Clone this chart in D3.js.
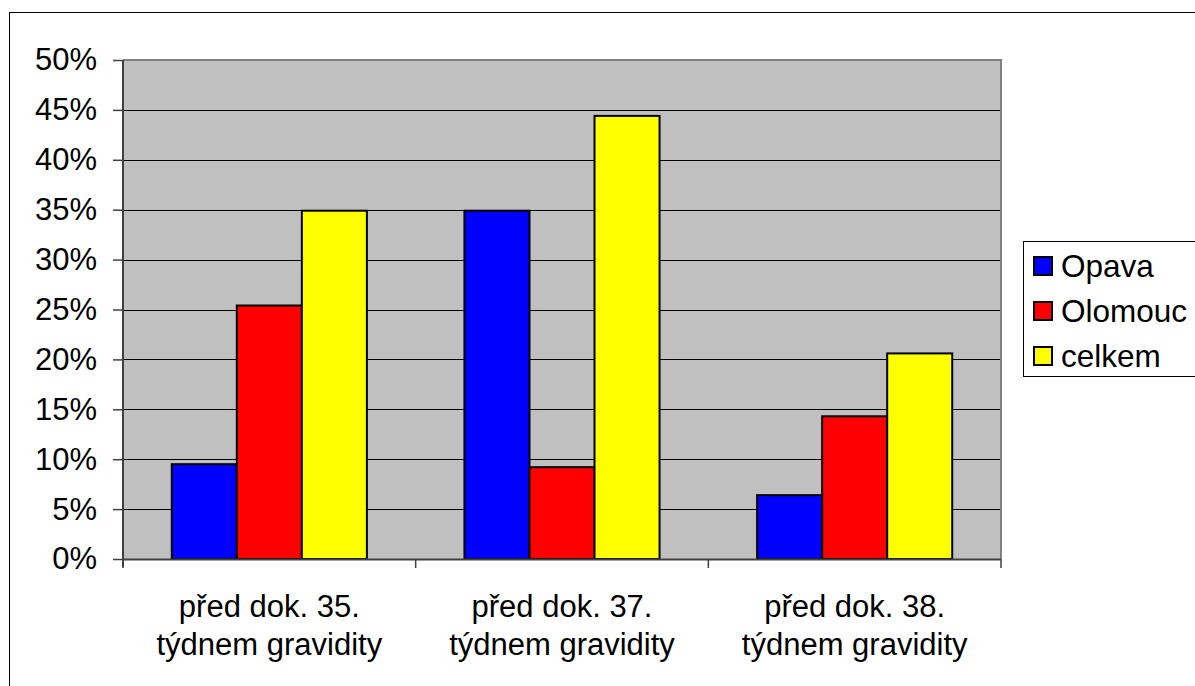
<!DOCTYPE html>
<html><head><meta charset="utf-8">
<script src="https://cdn.jsdelivr.net/npm/d3@7"></script>
<style>body{margin:0;background:#fff}svg{display:block}text{font-family:"Liberation Sans",Arial,sans-serif;fill:#000}</style>
</head><body>
<script>
const categories = [["před dok. 35.","týdnem gravidity"],["před dok. 37.","týdnem gravidity"],["před dok. 38.","týdnem gravidity"]];
const seriesNames = ["Opava","Olomouc","celkem"];
const seriesColors = ["#0000FF","#FF0000","#FFFF00"];
const opava = [0.095, 0.349, 0.064];
const olomouc = [0.254, 0.092, 0.143];
const celkem = [0.349, 0.444, 0.206];
const yTicks = [0,0.05,0.10,0.15,0.20,0.25,0.30,0.35,0.40,0.45,0.50];

const W=1195,H=686;
const svg=d3.select("body").append("svg").attr("width",W).attr("height",H);
svg.append("rect").attr("x",9.5).attr("y",12.5).attr("width",W).attr("height",H).attr("fill","#fff").attr("stroke","#000").attr("stroke-width",1);

const L=123,R=1001,T=60,B=559;
const x0=d3.scaleBand().domain(d3.range(categories.length)).range([L,R]).paddingInner(0).paddingOuter(0);
const bw=x0.bandwidth()/(3+1.5);
const y=d3.scaleLinear().domain([0,0.5]).range([B,T]);

svg.append("rect").attr("x",L).attr("y",T).attr("width",R-L).attr("height",B-T).attr("fill","#C0C0C0");
// gridlines
svg.append("g").selectAll("line").data(yTicks.slice(1,-1)).join("line")
  .attr("x1",L).attr("x2",R).attr("y1",d=>Math.round(y(d))+0.5).attr("y2",d=>Math.round(y(d))+0.5)
  .attr("stroke","#000").attr("stroke-width",1);
// plot border top/right
svg.append("path").attr("d",`M${L},${T} H${R} V${B}`).attr("fill","none").attr("stroke","#808080").attr("stroke-width",2);

const data=[opava,olomouc,celkem];
const g=svg.append("g");
data.forEach((vals,si)=>{
  g.selectAll(null).data(vals).join("rect")
   .attr("x",(d,i)=>x0(i)+bw*0.75+si*bw)
   .attr("y",d=>y(d))
   .attr("width",bw)
   .attr("height",d=>B-y(d))
   .attr("fill",seriesColors[si]).attr("stroke","#000").attr("stroke-width",2);
});

// y axis
const yAxis=d3.axisLeft(y).tickValues(yTicks).tickSize(10).tickFormat(d3.format(".0%"));
const ya=svg.append("g").attr("transform",`translate(${L},0)`).call(yAxis);
ya.select(".domain").attr("stroke","#404040").attr("stroke-width",2).attr("d",`M0,${T}V${B+8}`);
ya.selectAll(".tick line").attr("stroke","#404040").attr("stroke-width",1.5);
ya.selectAll(".tick text").attr("x",-26).attr("font-size",31).attr("font-family","Liberation Sans, Arial, sans-serif").attr("fill","#000");

// x axis
const xa=svg.append("g").attr("transform",`translate(0,${B})`);
xa.append("line").attr("x1",L).attr("x2",R).attr("y1",0.5).attr("y2",0.5).attr("stroke","#404040").attr("stroke-width",2);
const bounds=[...d3.range(categories.length).map(i=>x0(i)),R];
xa.selectAll(".xt").data(bounds).join("line").attr("x1",d=>d).attr("x2",d=>d).attr("y1",0).attr("y2",9).attr("stroke","#404040").attr("stroke-width",1.5);
const xl=xa.selectAll(".xl").data(categories).join("text")
  .attr("text-anchor","middle").attr("font-size",31)
  .attr("transform",(d,i)=>`translate(${x0(i)+x0.bandwidth()/2},0)`);
xl.selectAll("tspan").data(d=>d).join("tspan").attr("x",0).attr("y",(d,j)=>58+j*38).text(d=>d);

// legend
const lg=svg.append("g");
lg.append("rect").attr("x",1023.5).attr("y",241.5).attr("width",200).attr("height",135).attr("fill","#fff").attr("stroke","#000").attr("stroke-width",1);
seriesNames.forEach((n,i)=>{
  const by=277+i*45;
  lg.append("rect").attr("x",1034).attr("y",by-20).attr("width",18).attr("height",18).attr("fill",seriesColors[i]).attr("stroke","#000").attr("stroke-width",2);
  lg.append("text").attr("x",1061).attr("y",by).attr("font-size",31.5).text(n);
});
</script>
</body></html>
